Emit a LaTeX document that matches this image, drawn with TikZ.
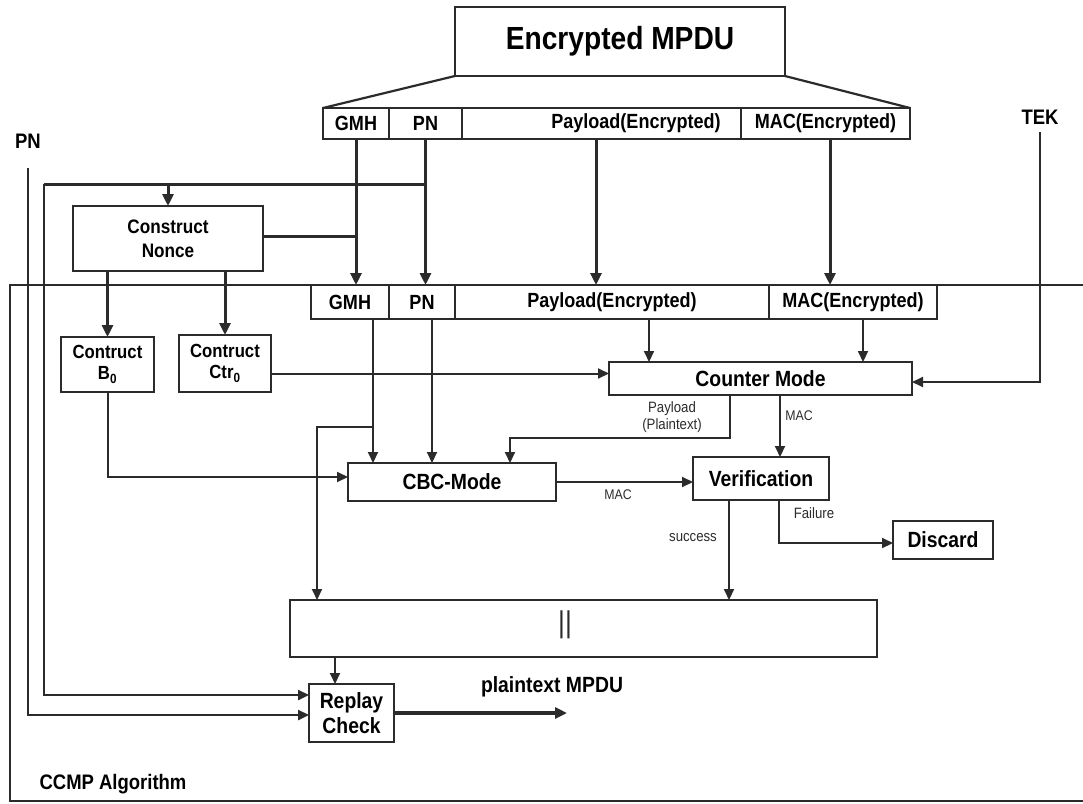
\documentclass[tikz,border=0pt]{standalone}
\usepackage{fontspec}
\setmainfont{Liberation Sans}[FakeStretch=0.88]
\usetikzlibrary{arrows.meta}
\definecolor{ink}{HTML}{2B2B2B}
\tikzset{
  box/.style={draw=ink, line width=2.2pt, inner sep=0pt, outer sep=0pt, align=center, text=black, font=\bfseries\fontsize{22}{25}\selectfont},
  smallbox/.style={box, font=\bfseries\fontsize{19.5}{22}\selectfont},
  cell/.style={box, font=\bfseries\fontsize{20.5}{22}\selectfont},
  conn/.style={draw=ink, line width=2pt, -{Triangle[length=11pt,width=10pt]}},
  thickconn/.style={draw=ink, line width=3pt, -{Triangle[length=12pt,width=11pt]}},
  thickline/.style={draw=ink, line width=3pt},
  lbl/.style={inner sep=0pt, align=center, text=ink, font=\fontsize{15}{17}\selectfont},
  biglbl/.style={inner sep=0pt, align=center, text=black, font=\bfseries\fontsize{21}{24}\selectfont}
}
\begin{document}
\begin{tikzpicture}[x=1pt, y=-1pt]
\useasboundingbox (0,0) rectangle (1083,803);
% outer algorithm frame
\draw[draw=ink, line width=2pt] (1083,285) -- (10,285) -- (10,801) -- (1083,801);

% Encrypted MPDU
\node[box, line width=2.8pt, minimum width=330pt, minimum height=69pt, font=\bfseries\fontsize{32}{34}\selectfont] (E) at (620,41.5) {Encrypted MPDU};

% field row 1
\node[cell, minimum width=66pt, minimum height=31pt] (G1) at (356,123.5) {GMH};
\node[cell, minimum width=73pt, minimum height=31pt] (P1) at (425.5,123.5) {PN};
\node[cell, minimum width=279pt, minimum height=31pt] (Y1) at (601.5,123.5) {\hspace*{69pt}Payload(Encrypted)};
\node[cell, minimum width=169pt, minimum height=31pt] (M1) at (825.5,123.5) {MAC(Encrypted)};
\draw[draw=ink, line width=2.2pt] (E.south west) -- (G1.north west);
\draw[draw=ink, line width=2.2pt] (E.south east) -- (M1.north east);

% field row 2
\node[cell, minimum width=78pt, minimum height=34pt] (G2) at (350,302) {GMH};
\node[cell, minimum width=66pt, minimum height=34pt] (P2) at (422,302) {PN};
\node[cell, minimum width=314pt, minimum height=34pt] (Y2) at (612,302) {Payload(Encrypted)};
\node[cell, minimum width=168pt, minimum height=34pt] (M2) at (853,302) {MAC(Encrypted)};

% outside labels
\node[biglbl] (PNl) at (28,141) {PN};
\node[biglbl] (TEK) at (1040,117) {TEK};
\coordinate (pnTop) at (28,168);
\coordinate (busL) at (44,184);

% processing boxes
\node[smallbox, minimum width=190pt, minimum height=65pt, font=\bfseries\fontsize{19.5}{24}\selectfont] (N) at (168,238.5) {Construct\\Nonce};
\node[smallbox, minimum width=93pt, minimum height=55pt, font=\bfseries\fontsize{19}{21}\selectfont] (B) at (107.5,364.5) {Contruct\\B\textsubscript{0}};
\node[smallbox, minimum width=92pt, minimum height=57pt, font=\bfseries\fontsize{19}{21}\selectfont] (C) at (225,363.5) {Contruct\\Ctr\textsubscript{0}};
\node[box, minimum width=303pt, minimum height=33pt] (CM) at (760.5,378.5) {Counter Mode};
\node[box, minimum width=208pt, minimum height=38pt] (CBC) at (452,482) {CBC-Mode};
\node[box, minimum width=136pt, minimum height=43pt] (V) at (761,478.5) {Verification};
\node[box, minimum width=100pt, minimum height=38pt] (D) at (943,540) {Discard};
\node[box, minimum width=587pt, minimum height=57pt] (L) at (583.5,628.5) {};
\node[inner sep=0pt, text=ink, font=\fontsize{30}{30}\selectfont] (bars) at (565,625) {||};
\node[box, minimum width=85pt, minimum height=58pt, font=\bfseries\fontsize{22}{25}\selectfont] (R) at (351.5,713) {Replay\\Check};
\coordinate (out) at (567,713);

% top-level connectors
\draw[thickconn] (G1.south) -- (G1.south |- G2.north);
\draw[thickconn] (P1.south) -- (P1.south |- G2.north);
\draw[thickconn] ([xshift=-5.5pt]Y1.south) -- ([xshift=-5.5pt]Y1.south |- Y2.north);
\draw[thickconn] ([xshift=4.5pt]M1.south) -- ([xshift=4.5pt]M1.south |- M2.north);
\draw[thickline] (P1.south |- busL) -- (busL);
\draw[conn, line width=2.4pt] (busL) |- ([yshift=18pt]R.west);
\draw[thickconn] (N.north |- busL) -- (N.north);
\draw[conn, line width=2.4pt] (pnTop) |- ([yshift=-2pt]R.west);
\draw[thickline] ([yshift=2.5pt]N.east) -- ([yshift=2.5pt]N.east -| G1.south);
\draw[thickconn] (N.south -| B.north) -- (B.north);
\draw[thickconn] (N.south -| C.north) -- (C.north);

% inner connectors
\draw[conn] ([yshift=-10pt]C.east) -- ([yshift=-10pt]C.east -| CM.west);
\draw[conn] ([xshift=37pt]Y2.south) -- ([xshift=37pt]Y2.south |- CM.north);
\draw[conn] ([xshift=10pt]M2.south) -- ([xshift=10pt]M2.south |- CM.north);
\draw[conn] ([yshift=-8pt]TEK.south) |- ([yshift=-3.5pt]CM.east);
\draw[conn] ([xshift=-30.5pt]CM.south) -- ++(0,43) -| ([xshift=58pt]CBC.north);
\draw[conn] ([xshift=19.5pt]CM.south) -- ([xshift=19.5pt]CM.south |- V.north);
\draw[conn] ([xshift=23pt]G2.south) -- ([xshift=23pt]G2.south |- CBC.north);
\coordinate (gbr) at ([xshift=23pt,yshift=-108pt]G2.south);
\draw[conn] (gbr) -| ([xshift=-266.5pt]L.north);
\draw[conn] ([xshift=10pt]P2.south) -- ([xshift=10pt]P2.south |- CBC.north);
\draw[conn] (B.south) |- ([yshift=5pt]CBC.west);
\draw[conn] (CBC.east) -- (CBC.east -| V.west);
\draw[conn] ([xshift=-32pt]V.south) -- ([xshift=-32pt]V.south |- L.north);
\draw[conn] ([xshift=18pt]V.south) |- ([yshift=-3pt]D.west);
\draw[conn] ([xshift=-16.5pt]R.north |- L.south) -- ([xshift=-16.5pt]R.north);
\draw[thickconn, line width=3.5pt] (R.east) -- (out);

% connector labels
\node[lbl] (plL) at (672,417) {Payload\\(Plaintext)};
\node[lbl, font=\fontsize{14}{16}\selectfont] (macA) at (799,416) {MAC};
\node[lbl, font=\fontsize{14}{16}\selectfont] (macB) at (618,495) {MAC};
\node[lbl] (succ) at (693,538) {success};
\node[lbl] (fail) at (814,513) {Failure};
\node[biglbl, font=\bfseries\fontsize{22}{24}\selectfont] (pt) at (552,687) {plaintext MPDU};
\node[biglbl] (ccmp) at (113,784) {CCMP Algorithm};
\end{tikzpicture}
\end{document}
